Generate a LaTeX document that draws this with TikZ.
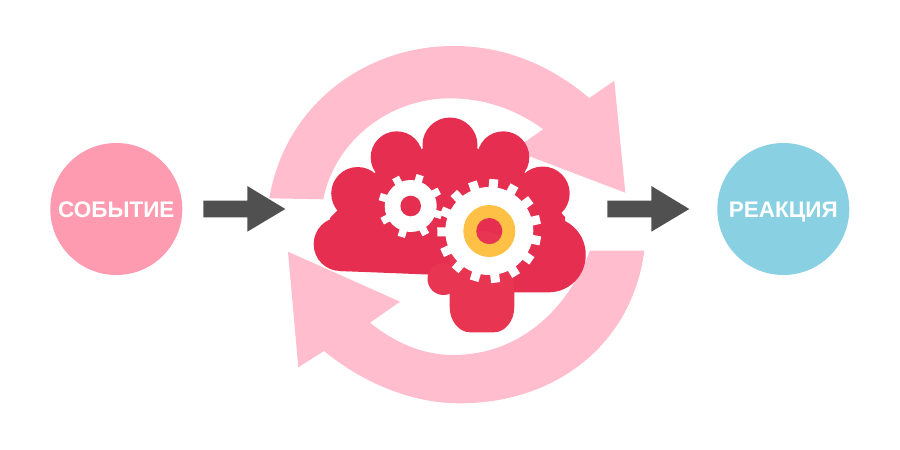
\documentclass[tikz,border=0pt]{standalone}
\usepackage{fontspec}
\setmainfont{Liberation Sans}
\definecolor{looppink}{HTML}{FFBDCD}
\definecolor{brainred}{HTML}{E62E50}
\definecolor{lobered}{HTML}{E83552}
\definecolor{ringyellow}{HTML}{FFC145}
\definecolor{eventpink}{HTML}{FF9BB0}
\definecolor{reactionblue}{HTML}{8AD0E3}
\definecolor{arrowgray}{HTML}{505050}
\tikzset{
    sidecircle/.style={circle,minimum size=132pt,inner sep=0pt,text=white,text height=16pt,text depth=0pt,font=\fontsize{22.5}{24}\selectfont\bfseries},
    looparrow/.style={fill=looppink},
    brainpart/.style={fill=brainred},
    blockarrow/.style={fill=arrowgray},
}
\newcommand*\drawGear[7]{%
    % #1/#2: centre
    % #3/#4: root and tip radius
    % #5/#6: number of teeth, first tooth angle
    % #7: tooth width
    \fill[white] (#1,#2) circle[radius=#3pt];
    \foreach \k in {1,...,#5}{
        \pgfmathsetmacro\toothangle{#6+(\k-1)*360/#5}
        \fill[white,shift={(#1,#2)},rotate=-\toothangle] (#3-2,-#7/2) rectangle (#4,#7/2);
    }
}
\newcommand*\drawBlockArrow[1]{%
    % #1: left end of the shaft
    \fill[blockarrow] (#1,200.7) -- ({#1+44},200.7) -- ({#1+44},186) -- ({#1+82},209) -- ({#1+44},231.7) -- ({#1+44},217.3) -- (#1,217.3) -- cycle;
}
\begin{document}
\begin{tikzpicture}[x=1pt,y=-1pt]
    \useasboundingbox (0,0) rectangle (900,450);
    % side circles
    \node[sidecircle,fill=eventpink] (event) at (116.3,209) {СОБЫТИЕ};
    \node[sidecircle,fill=reactionblue] (reaction) at (783.3,209) {РЕАКЦИЯ};
    \drawBlockArrow{203.3}
    \drawBlockArrow{607.3}
    % upper loop arrow
    \fill[looparrow] (269.3,198.3) .. controls (285,105) and (365,46) .. (453.3,46)
        .. controls (505,46) and (550,65) .. (589.3,98)
        -- (614.3,80.7) -- (625.3,192.7) -- (513,150) -- (543.3,129.3)
        .. controls (517,110) and (485,98.3) .. (450,98.3)
        .. controls (390,98.3) and (335,140) .. (323.3,199.3) -- cycle;
    % lower loop arrow
    \fill[looparrow] (644.3,250.7) .. controls (632,345) and (555,403.3) .. (460,403.3)
        .. controls (410,403.3) and (362,382) .. (324,351)
        -- (298.3,367.3) -- (288,251.7) -- (400,301.7) -- (370,322.7)
        .. controls (394,342) and (422,355) .. (453.3,355)
        .. controls (515,355) and (565,315) .. (590,250.7) -- cycle;
    % brain
    \fill[brainpart] (450,145) circle[radius=27.5pt];
    \fill[brainpart] (396.7,157.3) circle[radius=26pt];
    \fill[brainpart] (503.3,157.3) circle[radius=26pt];
    \fill[brainpart] (357.7,193.5) circle[radius=26.5pt];
    \fill[brainpart] (542.7,193.5) circle[radius=27pt];
    \fill[brainpart] (330,218) -- (375,172.7) -- (422.7,148.3) -- (477.3,148.3) -- (525,172.7) -- (565,217) -- (565,280) -- (340,271) -- cycle;
    \fill[brainpart,rounded corners=26.7pt] (313.7,217.3) rectangle (470,271);
    \fill[brainpart,rounded corners=37pt] (440,217.3) rectangle (585.7,292.3);
    \fill[lobered] (443.5,279) circle[radius=16pt];
    \fill[lobered] (449.7,262) .. controls (449.7,243) and (465,231) .. (482,231) .. controls (499,231) and (514.3,243) .. (514.3,262) -- (514.3,307) .. controls (514.3,321) and (505,332.3) .. (494,332.3) -- (470,332.3) .. controls (459,332.3) and (449.7,321) .. (449.7,307) -- cycle;
    % gears
    \drawGear{410.7}{206}{26}{32.3}{8}{17}{7.5}
    \fill[brainred] (410.7,206) circle[radius=10.3pt];
    \drawGear{489.3}{231}{44}{52}{15}{83}{9}
    \fill[ringyellow] (489.3,231) circle[radius=26pt];
    \fill[brainred] (489.3,231) circle[radius=13pt];
    \begin{scope}
        \clip (489.3,231) circle[radius=13pt];
        \fill[lobered] (449.7,262) .. controls (449.7,243) and (465,231) .. (482,231) .. controls (499,231) and (514.3,243) .. (514.3,262) -- cycle;
    \end{scope}
\end{tikzpicture}
\end{document}
